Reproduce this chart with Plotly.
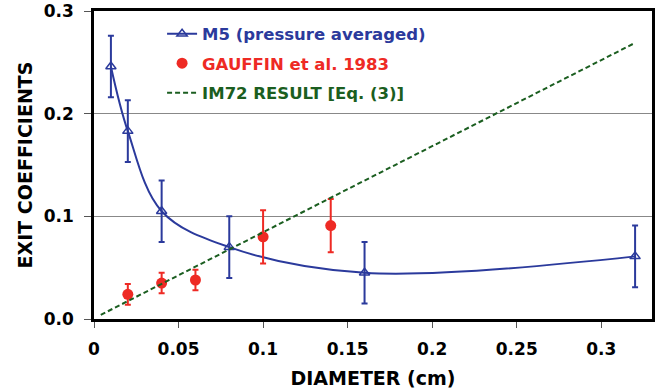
import plotly.graph_objects as go

# M5 (pressure averaged)
m5_x = [0.01, 0.02, 0.04, 0.08, 0.16, 0.32]
m5_y = [0.246, 0.183, 0.105, 0.070, 0.045, 0.061]
m5_err = [0.030, 0.030, 0.030, 0.030, 0.030, 0.030]

# GAUFFIN et al. 1983
g_x = [0.02, 0.04, 0.06, 0.10, 0.14]
g_y = [0.024, 0.035, 0.038, 0.080, 0.091]
g_err = [0.010, 0.010, 0.010, 0.026, 0.026]

# IM72 RESULT [Eq. (3)]
im_x = [0.004, 0.32]
im_y = [0.004, 0.269]

x_ticks = [0, 0.05, 0.1, 0.15, 0.2, 0.25, 0.3]
x_labels = ["0", "0.05", "0.1", "0.15", "0.2", "0.25", "0.3"]
y_ticks = [0, 0.1, 0.2, 0.3]

BLUE = "#2b3a9c"
RED = "#ee2a24"
GREEN = "#1b5e20"
FONT = "DejaVu Sans"

fig = go.Figure()
fig.add_trace(go.Scatter(
    x=m5_x, y=m5_y, mode="lines+markers",
    name=f"<span style='color:{BLUE}'><b>M5 (pressure averaged)</b></span>",
    line=dict(color=BLUE, width=2, shape="spline", smoothing=1.0),
    marker=dict(symbol="triangle-up-open", size=9, color=BLUE, line=dict(width=1.5)),
    error_y=dict(type="data", array=m5_err, color=BLUE, thickness=2, width=3),
    legendgroup="a",
))
fig.add_trace(go.Scatter(
    x=g_x, y=g_y, mode="markers",
    name=f"<span style='color:{RED}'><b>GAUFFIN et al. 1983</b></span>",
    marker=dict(symbol="circle", size=11, color=RED),
    error_y=dict(type="data", array=g_err, color=RED, thickness=2, width=3),
    legendgroup="b",
))
fig.add_trace(go.Scatter(
    x=im_x, y=im_y, mode="lines",
    name=f"<span style='color:{GREEN}'><b>IM72 RESULT [Eq. (3)]</b></span>",
    line=dict(color=GREEN, width=2, dash="5px,3px"),
    legendgroup="c",
))

fig.update_layout(
    width=656, height=391,
    margin=dict(l=94, r=4, t=11, b=72),
    plot_bgcolor="white", paper_bgcolor="white",
    font=dict(family=FONT, size=15, color="black"),
    legend=dict(x=0.122, y=0.982, xanchor="left", yanchor="top",
                bgcolor="rgba(0,0,0,0)", font=dict(size=16.5, family=FONT),
                traceorder="grouped", tracegroupgap=5, itemwidth=30),
    showlegend=True,
)
fig.update_xaxes(
    range=[0, 0.33], tickvals=x_ticks, ticktext=x_labels,
    showgrid=False, zeroline=False, automargin=False,
    showline=True, mirror=True, linecolor="black", linewidth=2.5,
    ticks="outside", ticklen=6, tickcolor="#555", ticklabelstandoff=7,
    ticklabeloverflow="allow",
    tickfont=dict(size=17, family=FONT, weight="bold"),
    title=dict(text="DIAMETER (cm)", font=dict(size=19, family=FONT, weight="bold"), standoff=14),
)
fig.update_yaxes(
    range=[0, 0.3], tickvals=y_ticks, tickformat=".1f",
    showgrid=True, gridcolor="#888", gridwidth=1, zeroline=False, automargin=False,
    showline=True, mirror=True, linecolor="black", linewidth=2.5,
    ticks="outside", ticklen=7, tickcolor="#555", ticklabelstandoff=7,
    ticklabeloverflow="allow",
    tickfont=dict(size=17, family=FONT, weight="bold"),
    title=dict(text="EXIT COEFFICIENTS", font=dict(size=19, family=FONT, weight="bold"), standoff=7),
)

fig.write_html("out.html", config={"displayModeBar": False},
               post_script="document.body.style.margin='0';")
